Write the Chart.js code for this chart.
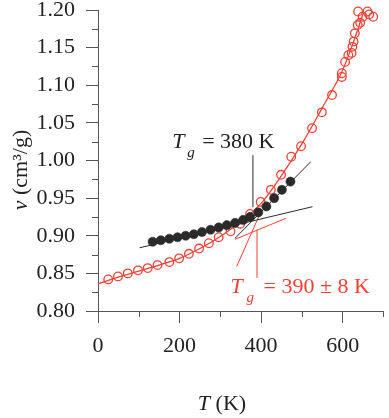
<!DOCTYPE html>
<html>
<head>
<meta charset="utf-8">
<script src="https://cdn.jsdelivr.net/npm/chart.js@4.4.0/dist/chart.umd.min.js"></script>
<style>
  html, body { margin: 0; padding: 0; background: #fff; }
  #wrap { width: 389px; height: 418px; }
</style>
</head>
<body>
<div id="wrap"><canvas id="chart"></canvas></div>
<script>
// red open circles: specific volume vs temperature
const redT = [25, 49, 73, 98, 122, 146, 175, 199, 223, 248, 272, 296, 325, 349, 373, 399, 424, 449, 474, 498, 525, 549, 574, 598, 598, 606, 614, 622, 624, 627, 630, 637, 643, 638, 649, 661, 665, 675];
const redV = [0.842, 0.846, 0.850, 0.854, 0.857, 0.861, 0.865, 0.870, 0.876, 0.883, 0.890, 0.898, 0.906, 0.916, 0.929, 0.945, 0.961, 0.981, 1.005, 1.019, 1.043, 1.064, 1.087, 1.111, 1.116, 1.131, 1.140, 1.143, 1.151, 1.158, 1.169, 1.180, 1.183, 1.198, 1.191, 1.198, 1.194, 1.191];

// red fitted curve
const fitT = [0, 50, 100, 150, 200, 250, 300, 350, 400, 450, 500, 550, 600, 625, 650];
const fitV = [0.836, 0.845, 0.853, 0.861, 0.870, 0.883, 0.899, 0.919, 0.943, 0.980, 1.022, 1.070, 1.120, 1.155, 1.195];

// black filled circles
const blackT = [134, 154, 175, 195, 215, 235, 255, 276, 296, 316, 336, 356, 373, 393, 413, 432, 451, 472];
const blackV = [0.892, 0.894, 0.896, 0.898, 0.900, 0.902, 0.905, 0.908, 0.911, 0.914, 0.917, 0.921, 0.925, 0.931, 0.939, 0.950, 0.961, 0.972];

// tangent lines [T0, T1], [v0, v1]
const blackGlassT = [102, 526], blackGlassV = [0.884, 0.9386];
const blackMeltT = [336, 522], blackMeltV = [0.8966, 0.9984];
const blackMarkT = [380, 380], blackMarkV = [0.938, 1.007];
const redGlassT = [336, 461], redGlassV = [0.8953, 0.9232];
const redMeltT = [340, 402], redMeltV = [0.859, 0.935];
const redMarkT = [390, 390], redMarkV = [0.844, 0.908];

const xTicks = [0, 200, 400, 600];
const RED = '#ef4236';
const BLACK = '#2a2a2a';
const AXIS = '#555';
const SERIF = "'Liberation Serif', 'DejaVu Serif', serif";

const pts = (xs, ys) => xs.map((x, i) => ({ x: x, y: ys[i] }));

function seg(xs, ys, color, order) {
  return {
    data: pts(xs, ys), showLine: true, borderColor: color, borderWidth: 1,
    pointRadius: 0, order: order, clip: false
  };
}

// minor ticks, axis titles and the Tg labels
const extras = {
  id: 'extras',
  afterDraw(chart) {
    const c = chart.ctx, xs = chart.scales.x, ys = chart.scales.y;
    const a = chart.chartArea;
    c.save();
    c.strokeStyle = AXIS;
    c.lineWidth = 1;
    c.beginPath();
    for (let t = 100; t <= 700; t += 200) {
      const px = Math.round(xs.getPixelForValue(t)) + 0.5;
      c.moveTo(px, a.bottom); c.lineTo(px, a.bottom + 6);
    }
    for (let v = 0.825; v < 1.2; v += 0.05) {
      const py = Math.round(ys.getPixelForValue(v)) + 0.5;
      c.moveTo(a.left, py); c.lineTo(a.left - 6, py);
    }
    c.stroke();

    c.textBaseline = 'alphabetic';
    c.textAlign = 'left';

    // black Tg label
    let x = xs.getPixelForValue(182), y = ys.getPixelForValue(1.0166);
    c.fillStyle = '#222';
    c.font = 'italic 22px ' + SERIF;
    c.fillText('T', x, y);
    c.font = 'italic 15px ' + SERIF;
    c.fillText('g', x + 15, y + 9);
    c.font = '22px ' + SERIF;
    c.fillText('= 380 K', x + 30, y);

    // red Tg label
    x = xs.getPixelForValue(325); y = ys.getPixelForValue(0.824);
    c.fillStyle = RED;
    c.font = 'italic 22px ' + SERIF;
    c.fillText('T', x, y);
    c.font = 'italic 15px ' + SERIF;
    c.fillText('g', x + 16, y + 9);
    c.font = '22px ' + SERIF;
    c.fillText('= 390 ± 8 K', x + 33, y);

    // x title
    c.fillStyle = '#222';
    c.font = 'italic 22px ' + SERIF;
    const tw = c.measureText('T').width;
    c.font = '22px ' + SERIF;
    const kw = c.measureText(' (K)').width;
    let sx = 222 - (tw + kw) / 2;
    c.font = 'italic 22px ' + SERIF;
    c.fillText('T', sx, 410);
    c.font = '22px ' + SERIF;
    c.fillText(' (K)', sx + tw, 410);

    // y title
    c.translate(27, 170);
    c.rotate(-Math.PI / 2);
    c.font = 'italic 22px ' + SERIF;
    const vw = c.measureText('v').width;
    c.font = '22px ' + SERIF;
    const uw = c.measureText(' (cm³/g)').width;
    sx = -(vw + uw) / 2;
    c.font = 'italic 22px ' + SERIF;
    c.fillText('v', sx, 0);
    c.font = '22px ' + SERIF;
    c.fillText(' (cm³/g)', sx + vw, 0);
    c.restore();
  }
};

new Chart(document.getElementById('chart'), {
  type: 'scatter',
  data: {
    datasets: [
      {
        data: pts(blackT, blackV), pointRadius: 4.6, pointHoverRadius: 4.6,
        pointBackgroundColor: BLACK, pointBorderColor: BLACK, pointBorderWidth: 0.5,
        showLine: false, order: 0, clip: false
      },
      seg(blackGlassT, blackGlassV, BLACK, 1),
      seg(blackMeltT, blackMeltV, BLACK, 1),
      seg(blackMarkT, blackMarkV, BLACK, 1),
      {
        data: pts(redT, redV), pointRadius: 4.3, pointHoverRadius: 4.3,
        pointBackgroundColor: 'rgba(0,0,0,0)', pointBorderColor: RED, pointBorderWidth: 1.3,
        showLine: false, order: 2, clip: false
      },
      seg(redGlassT, redGlassV, RED, 3),
      seg(redMeltT, redMeltV, RED, 3),
      seg(redMarkT, redMarkV, RED, 3),
      {
        data: pts(fitT, fitV), showLine: true, borderColor: RED, borderWidth: 1.3,
        pointRadius: 0, cubicInterpolationMode: 'monotone', order: 4, clip: false
      }
    ]
  },
  options: {
    responsive: true,
    maintainAspectRatio: false,
    animation: false,
    layout: { padding: { top: 10, right: 2, left: 0, bottom: 0 } },
    plugins: { legend: { display: false }, tooltip: { enabled: false } },
    scales: {
      x: {
        type: 'linear', min: 0, max: 700,
        afterBuildTicks: (s) => { s.ticks = [0, 200, 400, 600, 700].map(v => ({ value: v })); },
        ticks: {
          color: '#222', padding: 10,
          font: { family: SERIF, size: 22 },
          maxRotation: 0, autoSkip: false,
          callback: (v) => (xTicks.includes(v) ? String(v) : '')
        },
        grid: {
          drawOnChartArea: false, tickLength: 12,
          tickColor: (ctx) => (xTicks.includes(ctx.tick.value) ? AXIS : 'rgba(0,0,0,0)')
        },
        border: { color: AXIS, width: 1 },
        afterFit: (s) => { s.height = 107; s.paddingLeft = 0; s.paddingRight = 0; }
      },
      y: {
        type: 'linear', min: 0.8, max: 1.2,
        ticks: {
          stepSize: 0.05, color: '#222', padding: 11,
          font: { family: SERIF, size: 22 },
          callback: (v) => v.toFixed(2)
        },
        grid: { drawOnChartArea: false, tickLength: 12, tickColor: AXIS },
        border: { color: AXIS, width: 1 },
        afterFit: (s) => { s.width = 98; s.paddingTop = 0; s.paddingBottom = 0; }
      }
    }
  },
  plugins: [extras]
});
</script>
</body>
</html>
